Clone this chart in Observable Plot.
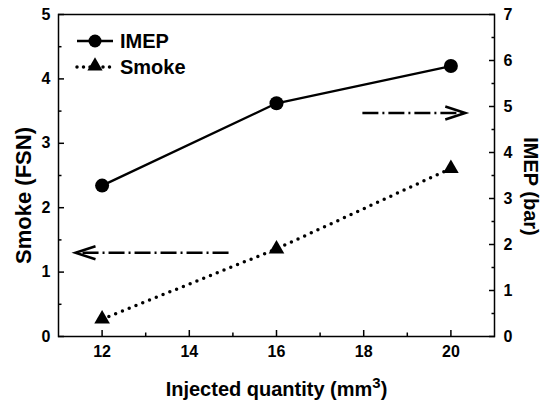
<!DOCTYPE html>
<html><head><meta charset="utf-8">
<script src="https://cdn.jsdelivr.net/npm/d3@7"></script>
<script src="https://cdn.jsdelivr.net/npm/@observablehq/plot@0.6"></script>
<style>
body{margin:0;background:#fff;}
#wrap{position:relative;width:549px;height:406px;}
</style></head><body><div id="wrap"></div>
<script>
// Data
const quantity = [12, 16, 20];
const imep = [3.28, 5.07, 5.88];        // bar (right axis)
const smoke = [0.27, 1.36, 2.61];       // FSN (left axis)
const xTicks = [12, 14, 16, 18, 20];
const xMinor = [13, 15, 17, 19];
const smokeTicks = [0, 1, 2, 3, 4, 5];
const smokeMinor = [0.5, 1.5, 2.5, 3.5, 4.5];
const imepTicks = [0, 1, 2, 3, 4, 5, 6, 7];
const imepMinor = [0.5, 1.5, 2.5, 3.5, 4.5, 5.5, 6.5];
// Annotation arrows (series they point to, level in that series' units, tail and tip x)
const arrowSeries = ["Smoke", "IMEP"];
const arrowLevel = [1.30, 4.86];
const arrowTail = [14.9, 17.97];
const arrowTip = [11.39, 20.33];

const k = 5 / 7; // IMEP (0–7) mapped onto Smoke (0–5) scale
const fmt = {fontSize: 16, fontWeight: "bold"};

const imepData = quantity.map((q, i) => ({q, v: imep[i] * k}));
const smokeData = quantity.map((q, i) => ({q, v: smoke[i]}));
const arrows = arrowSeries.map((s, i) => ({
  s, y: s === "IMEP" ? arrowLevel[i] * k : arrowLevel[i], tail: arrowTail[i], tip: arrowTip[i]
}));

const headLeft = {draw(ctx) { ctx.moveTo(20, -6.5); ctx.lineTo(0, 0); ctx.lineTo(20, 6.5); }};
const headRight = {draw(ctx) { ctx.moveTo(-20, -6.5); ctx.lineTo(0, 0); ctx.lineTo(-20, 6.5); }};

const chart = Plot.plot({
  width: 549, height: 406,
  marginLeft: 58, marginRight: 55, marginTop: 14, marginBottom: 70,
  style: {fontFamily: "'Liberation Sans', Arial, sans-serif", fontSize: "16px", fontWeight: "bold", color: "black", background: "white"},
  x: {domain: [11, 21]},
  y: {domain: [0, 5]},
  marks: [
    Plot.axisX({ticks: xTicks, tickSize: -6, tickPadding: 15, strokeWidth: 1.5, label: null, tickFormat: d => String(d), ...fmt}),
    Plot.axisX({ticks: xMinor, tickSize: -3.5, tickFormat: () => "", strokeWidth: 1.5, label: null}),
    Plot.axisY({ticks: smokeTicks, tickSize: -6, tickPadding: 14, strokeWidth: 1.5, label: null, tickFormat: d => String(d), ...fmt}),
    Plot.axisY({ticks: smokeMinor, tickSize: -3.5, tickFormat: () => "", strokeWidth: 1.5, label: null}),
    Plot.axisY({anchor: "right", ticks: imepTicks.map(v => v * k), tickFormat: d => String(Math.round(d / k)), tickSize: -6, tickPadding: 15, strokeWidth: 1.5, label: null, ...fmt}),
    Plot.axisY({anchor: "right", ticks: imepMinor.map(v => v * k), tickFormat: () => "", tickSize: -3.5, strokeWidth: 1.5, label: null}),
    Plot.frame({strokeWidth: 1.5}),
    Plot.text(["Smoke (FSN)"], {frameAnchor: "left", textAnchor: "middle", lineAnchor: "middle", dx: -35, dy: 20, rotate: -90, fontSize: 22, fontWeight: "bold"}),
    Plot.text(["IMEP (bar)"], {frameAnchor: "right", textAnchor: "middle", lineAnchor: "middle", dx: 36, dy: 11, rotate: 90, fontSize: 20, fontWeight: "bold"}),
    Plot.text(["Injected quantity (mm3)"], {frameAnchor: "bottom", textAnchor: "middle", lineAnchor: "bottom", dy: 59, fontSize: 20, fontWeight: "bold"}),
    Plot.link(arrows, {x1: "tail", x2: "tip", y1: "y", y2: "y", stroke: "black", strokeWidth: 2.5, strokeDasharray: "16,4,2,4"}),
    Plot.dot(arrows.filter(d => d.tip < d.tail), {x: "tip", y: "y", symbol: headLeft, fill: "none", stroke: "black", strokeWidth: 2.5}),
    Plot.dot(arrows.filter(d => d.tip > d.tail), {x: "tip", y: "y", symbol: headRight, fill: "none", stroke: "black", strokeWidth: 2.5}),
    Plot.line(imepData, {x: "q", y: "v", stroke: "black", strokeWidth: 2.3}),
    Plot.dot(imepData, {x: "q", y: "v", r: 7, fill: "black", symbol: "circle"}),
    Plot.line(smokeData, {x: "q", y: "v", stroke: "black", strokeWidth: 3.5, strokeDasharray: "0,7.3", strokeLinecap: "round"}),
    Plot.dot(smokeData, {x: "q", y: "v", r: 5.8, fill: "black", symbol: "triangle"})
  ]
});
document.getElementById("wrap").appendChild(chart);

// superscript on the x title
d3.select(chart).selectAll("text").filter(function() { return this.textContent === "Injected quantity (mm3)"; })
  .each(function() {
    const t = d3.select(this);
    t.text("Injected quantity (mm");
    t.append("tspan").attr("dy", -8).attr("font-size", 15).text("3");
    t.append("tspan").attr("dy", 8).text(")");
  });

// legend inside the plot area
const svg = d3.select(chart);
const lg = svg.append("g").attr("font-family", "'Liberation Sans', Arial, sans-serif").attr("font-weight", "bold").attr("font-size", 20).attr("text-anchor", "start");
lg.append("line").attr("x1", 77).attr("x2", 113).attr("y1", 41).attr("y2", 41).attr("stroke", "black").attr("stroke-width", 2.3);
lg.append("circle").attr("cx", 95).attr("cy", 41).attr("r", 6.5).attr("fill", "black");
lg.append("text").attr("x", 120).attr("y", 48).text("IMEP");
lg.append("line").attr("x1", 77).attr("x2", 113).attr("y1", 67).attr("y2", 67).attr("stroke", "black").attr("stroke-width", 3.5).attr("stroke-dasharray", "0,6.5").attr("stroke-linecap", "round");
lg.append("path").attr("transform", "translate(95,66)").attr("d", d3.symbol(d3.symbolTriangle, 100)()).attr("fill", "black");
lg.append("text").attr("x", 120).attr("y", 74).text("Smoke");
</script></body></html>
